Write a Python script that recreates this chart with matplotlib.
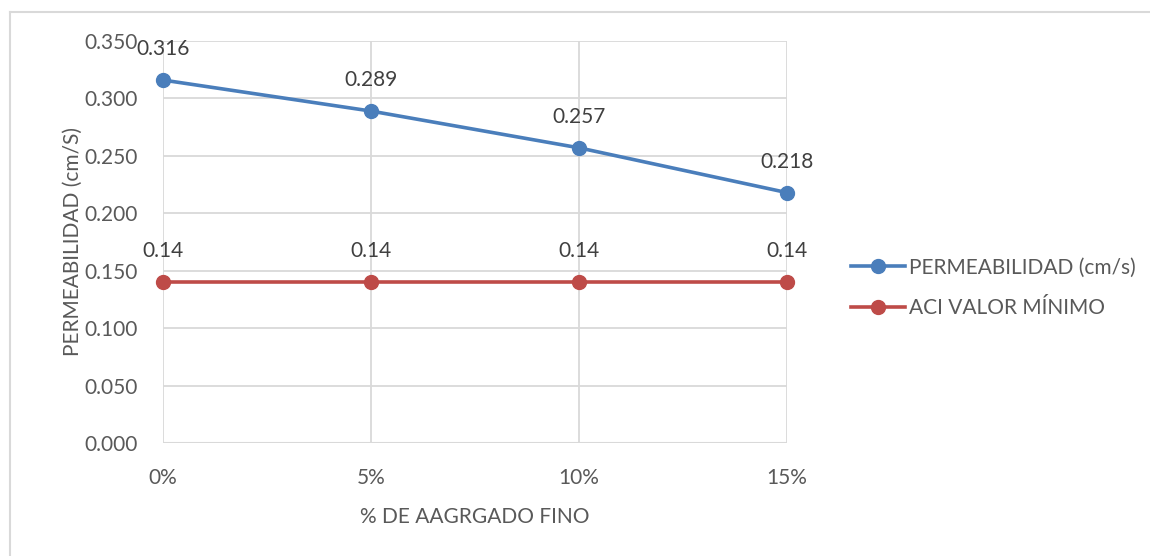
import matplotlib.pyplot as plt
from matplotlib.lines import Line2D

plt.rcParams['font.family'] = ['Lato', 'DejaVu Sans']

# datos
categorias = ['0%', '5%', '10%', '15%']
permeabilidad = [0.316, 0.289, 0.257, 0.218]
aci_minimo = [0.14, 0.14, 0.14, 0.14]
etiquetas_perm = ['0.316', '0.289', '0.257', '0.218']
etiquetas_aci = ['0.14', '0.14', '0.14', '0.14']

azul = '#4A7EBB'
rojo = '#BE4B48'
gris_texto = '#595959'
gris_rejilla = '#D9D9D9'
fs = 15

fig = plt.figure(figsize=(11.5, 5.56), dpi=100)
ax = fig.add_axes([163 / 1150, 1 - 443 / 556, (787 - 163) / 1150, (443 - 41) / 556])

x = list(range(len(categorias)))
ax.plot(x, permeabilidad, color=azul, lw=2.6, marker='o', ms=10, label='PERMEABILIDAD (cm/s)',
        clip_on=False, zorder=3)
ax.plot(x, aci_minimo, color=rojo, lw=2.6, marker='o', ms=10, label='ACI VALOR MÍNIMO',
        clip_on=False, zorder=3)

# etiquetas de datos
for xi, v, t in zip(x, permeabilidad, etiquetas_perm):
    ax.annotate(t, (xi, v), xytext=(0, 15), textcoords='offset points', ha='center', va='bottom',
                fontsize=fs, color='#404040')
for xi, v, t in zip(x, aci_minimo, etiquetas_aci):
    ax.annotate(t, (xi, v), xytext=(0, 15), textcoords='offset points', ha='center', va='bottom',
                fontsize=fs, color='#404040')

ax.set_xlim(0, 3)
ax.set_ylim(0, 0.35)
ax.set_xticks(x)
ax.set_xticklabels(categorias)
ax.set_yticks([0, 0.05, 0.1, 0.15, 0.2, 0.25, 0.3, 0.35])
ax.set_yticklabels(['%.3f' % v for v in ax.get_yticks()])
ax.grid(True, color=gris_rejilla, lw=1.3)
ax.set_axisbelow(True)
for s in ax.spines.values():
    s.set_visible(False)
ax.axhline(0, color=gris_rejilla, lw=1.5, zorder=1)
ax.tick_params(length=0, labelsize=fs, labelcolor=gris_texto, pad=18)
ax.tick_params(axis='x', pad=18)

ax.set_xlabel('% DE AAGRGADO FINO', fontsize=fs, color=gris_texto, labelpad=14)
ax.set_ylabel('PERMEABILIDAD (cm/S)', fontsize=fs, color=gris_texto)
ax.yaxis.set_label_coords(-0.129, 0.5)

ax.legend(loc='center left', bbox_to_anchor=(832 / 1150, 1 - 288 / 556), bbox_transform=fig.transFigure,
          frameon=False, fontsize=fs, labelcolor=gris_texto, handlelength=2.6, handletextpad=0.2,
          labelspacing=1.0)

# borde exterior del gráfico
fig.add_artist(Line2D([10 / 1150, 1], [1 - 12 / 556, 1 - 12 / 556], color='#D9D9D9', lw=1.5,
                      transform=fig.transFigure))
fig.add_artist(Line2D([10 / 1150, 10 / 1150], [0, 1 - 12 / 556], color='#D9D9D9', lw=1.5,
                      transform=fig.transFigure))

fig.savefig('out.png', dpi=100, facecolor='white')
